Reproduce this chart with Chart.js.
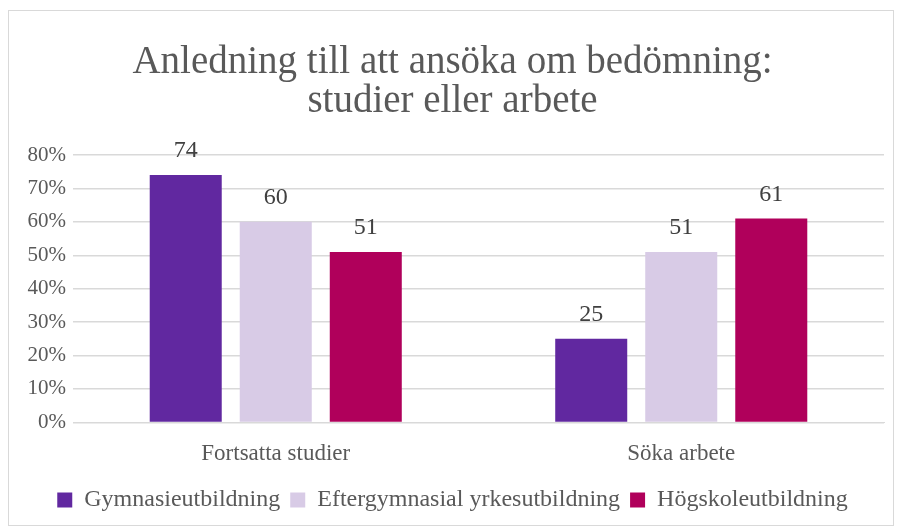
<!DOCTYPE html>
<html>
<head>
<meta charset="utf-8">
<script src="https://cdn.jsdelivr.net/npm/chart.js@4/dist/chart.umd.min.js"></script>
<style>
  body { margin: 0; background: #fff; }
  #box { position: absolute; left: 8px; top: 10px; width: 884px; height: 514px; border: 1px solid #d9d9d9; }
  canvas { display: block; }
</style>
</head>
<body>
<div id="box"><canvas id="chart" width="884" height="514"></canvas></div>
<script>
const categories = ['Fortsatta studier', 'Söka arbete'];
const seriesNames = ['Gymnasieutbildning', 'Eftergymnasial yrkesutbildning', 'Högskoleutbildning'];
const gymnasie = [74, 25];
const eftergymnasial = [60, 51];
const hogskola = [51, 61];
const colors = ['#6128a0', '#d8cbe6', '#b0005b'];

const FONT = "'Liberation Serif', 'DejaVu Serif', serif";

// etiketter ovanför staplarna
const valueLabels = {
  id: 'valueLabels',
  afterDatasetsDraw(chart) {
    const ctx = chart.ctx;
    ctx.save();
    ctx.font = '24px ' + FONT;
    ctx.fillStyle = '#404040';
    ctx.textAlign = 'center';
    ctx.textBaseline = 'bottom';
    chart.data.datasets.forEach((ds, i) => {
      chart.getDatasetMeta(i).data.forEach((bar, j) => {
        ctx.fillText(ds.data[j], bar.x, bar.y - 12);
      });
    });
    ctx.restore();
  }
};

new Chart(document.getElementById('chart'), {
  type: 'bar',
  data: {
    labels: categories,
    datasets: [
      { label: seriesNames[0], data: gymnasie, backgroundColor: colors[0] },
      { label: seriesNames[1], data: eftergymnasial, backgroundColor: colors[1] },
      { label: seriesNames[2], data: hogskola, backgroundColor: colors[2] }
    ]
  },
  options: {
    responsive: false,
    animation: false,
    layout: { padding: { left: 12, right: 9, top: 8, bottom: 3 } },
    datasets: { bar: { categoryPercentage: 0.666, barPercentage: 0.8 } },
    scales: {
      x: {
        grid: { display: false },
        border: { color: '#d9d9d9' },
        ticks: { color: '#595959', font: { family: FONT, size: 23 }, padding: 10 }
      },
      y: {
        min: 0, max: 80,
        ticks: { stepSize: 10, color: '#595959', font: { family: FONT, size: 21 }, padding: 7,
                 callback: v => v + '%' },
        grid: { color: '#d9d9d9', lineWidth: 1.5, drawTicks: false },
        border: { display: false },
        afterFit(scale) { scale.width = 52; }
      }
    },
    plugins: {
      title: {
        display: true,
        text: ['Anledning till att ansöka om bedömning:', 'studier eller arbete'],
        color: '#595959',
        font: { family: FONT, size: 39, weight: 'normal', lineHeight: 1.0 },
        padding: { top: 24, bottom: 34 }
      },
      legend: {
        position: 'bottom',
        labels: { color: '#595959', font: { family: FONT, size: 24 }, boxWidth: 15, boxHeight: 15, padding: 10 }
      },
      tooltip: { enabled: false }
    }
  },
  plugins: [valueLabels]
});
</script>
</body>
</html>
